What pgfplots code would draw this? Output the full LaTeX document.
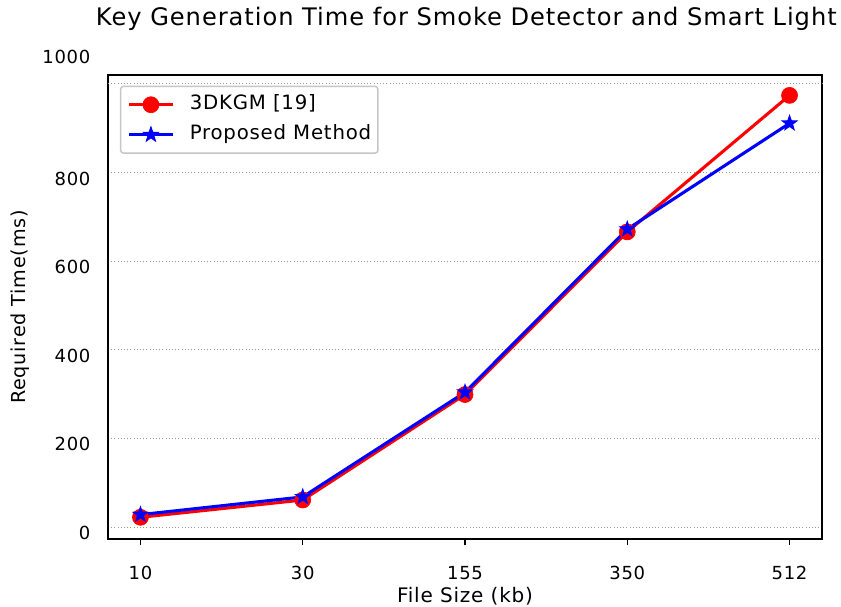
\documentclass[border=0pt]{standalone}
\usepackage{pgfplots}
\pgfplotsset{compat=1.18}
\usepackage{fontspec}
\setmainfont[LetterSpace=4]{DejaVu Sans}
\pgfdeclareplotmark{pentagram}{%
  \pgfpathmoveto{\pgfpointpolar{90}{\pgfplotmarksize}}%
  \pgfpathlineto{\pgfpointpolar{126}{0.40\pgfplotmarksize}}%
  \pgfpathlineto{\pgfpointpolar{162}{\pgfplotmarksize}}%
  \pgfpathlineto{\pgfpointpolar{198}{0.40\pgfplotmarksize}}%
  \pgfpathlineto{\pgfpointpolar{234}{\pgfplotmarksize}}%
  \pgfpathlineto{\pgfpointpolar{270}{0.40\pgfplotmarksize}}%
  \pgfpathlineto{\pgfpointpolar{306}{\pgfplotmarksize}}%
  \pgfpathlineto{\pgfpointpolar{342}{0.40\pgfplotmarksize}}%
  \pgfpathlineto{\pgfpointpolar{18}{\pgfplotmarksize}}%
  \pgfpathlineto{\pgfpointpolar{54}{0.40\pgfplotmarksize}}%
  \pgfpathclose
  \pgfusepathqfillstroke
}
\begin{document}
\begin{tikzpicture}
\begin{axis}[
  name=ax,
  scale only axis,
  width=535.5pt, height=348pt,
  xmin=-0.2, xmax=4.2,
  ymin=-27, ymax=1020,
  xtick={0,1,2,3,4},
  xticklabels={10,30,155,350,512},
  ytick={0,200,400,600,800},
  extra y ticks={1000},
  extra y tick style={grid=major, yticklabel style={yshift=24.5pt}},
  /pgf/number format/assume math mode=true,
  /pgf/number format/1000 sep={},
  tick label style={font=\fontsize{13.5}{16}\selectfont, text=black},
  yticklabel style={anchor=east, inner sep=0pt, xshift=-13pt, yshift=-4.5pt},
  xticklabel style={anchor=base, inner sep=0pt, yshift=-25.5pt},
  xtick pos=bottom,
  ytick style={draw=none},
  xtick style={black, line width=0.8pt},
  xtick align=outside,
  major tick length=4.5pt,
  ymajorgrids,
  grid style={dotted, gray!80, line width=0.7pt},
  axis line style={line width=0.9pt},
  title={Key Generation Time for Smoke Detector and Smart Light},
  title style={font=\fontsize{18.1}{21}\selectfont, at={(0.5,1)}, anchor=base, inner sep=0pt, yshift=31.3pt, xshift=1pt},
  xlabel={File Size (kb)},
  ylabel={Required Time(ms)},
  xlabel style={font=\fontsize{15}{17}\selectfont, at={(0.5,0)}, anchor=base, inner sep=0pt, yshift=-47.5pt},
  ylabel style={font=\fontsize{14.4}{17}\selectfont, at={(-0.1232,0.5)}, anchor=center, inner sep=0pt},
  legend style={at={(0.0168,0.977)}, anchor=north west, draw=gray!45, line width=1.1pt,
    rounded corners=2pt, font=\fontsize{14.8}{17}\selectfont,
    inner xsep=5pt, inner ysep=7pt, row sep=9pt, column sep=11.5pt,
    nodes={inner sep=0pt, text height=10.5pt, text depth=3pt}},
  legend cell align=left,
  legend image code/.code={\draw[mark repeat=2, mark phase=2, #1] plot coordinates {(0pt,0pt) (16.5pt,0pt) (33pt,0pt)};},
]
\addplot[red, line width=2.3pt, mark=*, mark size=6pt, mark options={solid, fill=red, line width=0.5pt}] coordinates {
(0,22) (1,61) (2,299) (3,666) (4,974)};
\addlegendentry{3DKGM [19]}
\addplot[blue, line width=2.3pt, mark=pentagram, mark size=6pt, mark options={solid, fill=blue, line width=0.6pt}] coordinates {
(0,28) (1,68) (2,304) (3,672) (4,911)};
\addlegendentry{Proposed Method}
\end{axis}
\pgfresetboundingbox
\path ([xshift=-81pt,yshift=-50.25pt]ax.south west) rectangle ([xshift=14.25pt,yshift=56.25pt]ax.north east);
\end{tikzpicture}
\end{document}
